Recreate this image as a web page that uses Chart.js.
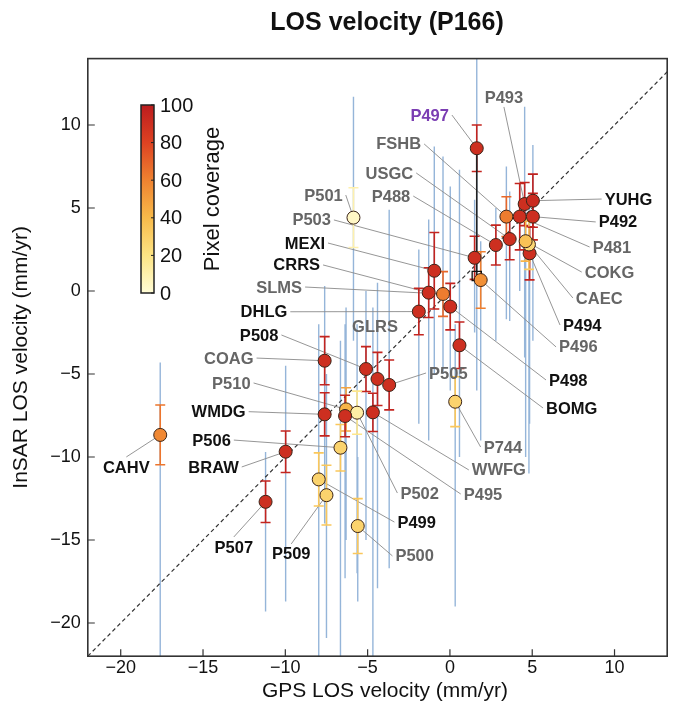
<!DOCTYPE html>
<html>
<head>
<meta charset="utf-8">
<script src="https://cdn.jsdelivr.net/npm/chart.js@4/dist/chart.umd.min.js"></script>
<style>
  html, body { margin: 0; padding: 0; background: #fff; }
  #wrap { width: 675px; height: 716px; }
</style>
</head>
<body>
<div id="wrap"><canvas id="losChart"></canvas></div>
<script>
// station data: GPS LOS (x), InSAR LOS (y), InSAR 1-sigma, pixel coverage (%)
const stations = ["P497","P493","FSHB","USGC","P488","P501","P503","MEXI","CRRS","SLMS","DHLG","GLRS","P508","COAG","P510","WMDG","P506","BRAW","CAHV","P507","P509","P499","P500","P502","P495","WWFG","P744","P505","P498","BOMG","P496","P494","CAEC","COKG","P481","P492","YUHG"];
const gpsVel   = [1.63, 4.54, 3.43, 3.63, 2.79, -5.86, 1.5, -0.95, -1.29, -0.42, -1.89, -4.4, -5.1, -7.61, -6.31, -7.61, -6.65, -9.98, -17.6, -11.2, -7.5, -7.97, -5.6, -5.64, -6.37, -4.68, 0.32, -3.69, 0.02, 0.58, 1.87, 4.84, 4.8, 4.6, 4.24, 5.04, 5.04];
const insarVel = [8.6, 5.24, 4.48, 3.13, 2.77, 4.42, 2.0, 1.22, -0.1, -0.18, -1.24, -5.3, -4.7, -4.2, -7.13, -7.43, -9.44, -9.68, -8.67, -12.7, -12.3, -11.35, -14.16, -7.33, -7.53, -7.31, -6.67, -5.66, -0.94, -3.27, 0.66, 2.27, 2.8, 3.0, 4.48, 4.48, 5.44];
const insarErr = [1.4, 1.3, 1.2, 1.25, 1.2, 1.8, 1.3, 2.3, 1.5, 1.35, 1.4, 1.6, 1.35, 1.45, 1.3, 1.3, 1.4, 1.25, 1.8, 1.25, 1.8, 1.6, 1.65, 1.3, 1.25, 1.15, 1.5, 1.5, 1.4, 1.4, 1.7, 1.6, 1.5, 1.2, 2.0, 1.4, 1.6];
const pixelCov = [90, 90, 62, 90, 90, 4, 90, 90, 90, 62, 90, 90, 90, 90, 42, 90, 28, 90, 58, 90, 28, 28, 28, 12, 90, 90, 28, 90, 90, 90, 55, 90, 26, 36, 90, 90, 92];
// spread of InSAR pixel values around each station (blue lines)
const spanTop    = [14.5, 11.1, 7.5, 6.0, 5.0, 11.7, 5.5, 8.7, 4.3, 8.1, 2.5, 0.5, 0, 0.3, -1, -2, -3, -4.5, -4.3, -9.7, -5, -2, -10, -2, -2, -1, -2, 4.9, 6.3, 7.3, 3, 5, 4.5, 5, 6.5, 7.5, 8.8];
const spanBottom = [-6, -4, -1.7, -1.8, -3, -3, -2.5, -5, -9, -5, -8, -17.9, -15, -12, -15, -14, -22, -18.7, -22, -19.3, -20.9, -22, -18.7, -17, -17.3, -22, -19, -16.7, -6, -10, -9, -8, -11, -10, 0, -3, -2];
// shifted P497 value (open square)
const shiftGps = 1.63;
const shiftInsar = 0.9;

// label anchors (data units), side of the text relative to the point, tone
const labelGps   = [-0.06, 3.28, -1.75, -2.23, -2.41, -6.51, -7.23, -7.59, -7.89, -8.98, -9.88, -4.55, -10.42, -11.93, -12.11, -12.41, -13.31, -12.83, -19.66, -13.13, -9.64, -3.19, -3.31, -3.01, 0.84, 1.33, 2.05, -1.27, 6.02, 5.84, 6.63, 6.87, 7.65, 8.19, 8.67, 9.04, 9.40];
const labelInsar = [10.6, 11.63, 8.86, 7.11, 5.72, 5.78, 4.28, 2.89, 1.57, 0.24, -1.25, -2.11, -2.65, -4.04, -5.54, -7.27, -8.98, -10.6, -10.6, -15.42, -15.84, -13.92, -15.96, -12.17, -12.23, -10.78, -9.4, -4.94, -5.36, -7.05, -3.37, -2.05, -0.42, 1.14, 2.65, 4.16, 5.54];
const labelSide  = ["L","T","L","L","L","L","L","L","L","L","L","N","L","L","L","L","L","L","B","B","B","R","R","R","R","R","R","R","R","R","R","R","R","R","R","R","R"];
const labelTone  = [2,1,1,1,1,1,1,0,0,1,0,1,0,1,1,0,0,0,0,0,0,0,1,1,1,1,1,1,0,0,1,0,1,1,1,0,0];

const xTicks = [-20, -15, -10, -5, 0, 5, 10];
const yTicks = [-20, -15, -10, -5, 0, 5, 10];
const barTicks = [0, 20, 40, 60, 80, 100];

const FONT = "'Liberation Sans', Arial, Helvetica, sans-serif";
const toneColor = ["#111111", "#666666", "#7b3db3"];

const covStops = [0, 20, 40, 60, 80, 100];
const covRgb = [[255,252,214],[253,228,132],[248,186,74],[239,130,48],[222,66,34],[188,28,30]];
function covColor(v) {
  let i = 0;
  while (i < covStops.length - 2 && v > covStops[i + 1]) i++;
  const t = (v - covStops[i]) / (covStops[i + 1] - covStops[i]);
  const a = covRgb[i], b = covRgb[i + 1];
  const c = a.map((ch, k) => Math.round(ch + (b[k] - ch) * t));
  return `rgb(${c[0]},${c[1]},${c[2]})`;
}

const points = gpsVel.map((x, i) => ({ x: x, y: insarVel[i] }));
const spans = [];
gpsVel.forEach((x, i) => {
  spans.push({ x: x, y: spanTop[i] }, { x: x, y: spanBottom[i] }, { x: x, y: null });
});

const minus = (v) => String(v).replace("-", "\u2212");

const overlay = {
  id: "overlay",
  beforeDatasetDraw(chart, args) {
    if (args.index !== 2) return;
    const { ctx, scales: { x, y } } = chart;
    ctx.save();
    // leader lines
    ctx.strokeStyle = "#8a8a8a";
    ctx.lineWidth = 0.9;
    stations.forEach((s, i) => {
      const side = labelSide[i];
      if (side === "N") return;
      let sx = x.getPixelForValue(labelGps[i]);
      let sy = y.getPixelForValue(labelInsar[i]);
      if (side === "L") sx += 3;
      if (side === "R") sx -= 3;
      if (side === "T") sy += 9;
      if (side === "B") sy -= 10;
      ctx.beginPath();
      ctx.moveTo(sx, sy);
      ctx.lineTo(x.getPixelForValue(gpsVel[i]), y.getPixelForValue(insarVel[i]));
      ctx.stroke();
    });
    // error bars
    ctx.lineWidth = 1.6;
    stations.forEach((s, i) => {
      const px = x.getPixelForValue(gpsVel[i]);
      const top = y.getPixelForValue(insarVel[i] + insarErr[i]);
      const bot = y.getPixelForValue(insarVel[i] - insarErr[i]);
      ctx.strokeStyle = covColor(Math.min(100, pixelCov[i] + 6));
      ctx.beginPath();
      ctx.moveTo(px, top); ctx.lineTo(px, bot);
      ctx.moveTo(px - 5, top); ctx.lineTo(px + 5, top);
      ctx.moveTo(px - 5, bot); ctx.lineTo(px + 5, bot);
      ctx.stroke();
    });
    ctx.restore();
  },
  afterDraw(chart) {
    const { ctx, chartArea: a, scales: { x, y } } = chart;
    ctx.save();
    // frame
    ctx.strokeStyle = "#333";
    ctx.lineWidth = 1.6;
    ctx.strokeRect(a.left, a.top, a.right - a.left, a.bottom - a.top);
    // inward ticks
    ctx.lineWidth = 1.2;
    ctx.beginPath();
    xTicks.forEach((v) => {
      const px = x.getPixelForValue(v);
      ctx.moveTo(px, a.bottom); ctx.lineTo(px, a.bottom - 7);
    });
    yTicks.forEach((v) => {
      const py = y.getPixelForValue(v);
      ctx.moveTo(a.left, py); ctx.lineTo(a.left + 7, py);
    });
    ctx.stroke();

    // titles
    ctx.fillStyle = "#111";
    ctx.textAlign = "center";
    ctx.textBaseline = "middle";
    ctx.font = `bold 25px ${FONT}`;
    ctx.fillText("LOS velocity (P166)", 387, 23);
    ctx.font = `21px ${FONT}`;
    ctx.fillText("GPS LOS velocity (mm/yr)", 385, 691);
    ctx.save();
    ctx.translate(21, (a.top + a.bottom) / 2);
    ctx.rotate(-Math.PI / 2);
    ctx.fillText("InSAR LOS velocity (mm/yr)", 0, 0);
    ctx.restore();

    // colorbar
    const cbL = 141, cbR = 154, cbT = 105, cbB = 293;
    const grad = ctx.createLinearGradient(0, cbB, 0, cbT);
    covStops.forEach((s) => grad.addColorStop(s / 100, covColor(s)));
    ctx.fillStyle = grad;
    ctx.fillRect(cbL, cbT, cbR - cbL, cbB - cbT);
    ctx.strokeStyle = "#222";
    ctx.lineWidth = 1.5;
    ctx.strokeRect(cbL, cbT, cbR - cbL, cbB - cbT);
    ctx.lineWidth = 1;
    ctx.fillStyle = "#111";
    ctx.font = `20px ${FONT}`;
    ctx.textAlign = "left";
    barTicks.forEach((v) => {
      const py = cbB - (cbB - cbT) * v / 100;
      ctx.beginPath();
      ctx.moveTo(cbR - 3, py); ctx.lineTo(cbR, py);
      ctx.stroke();
      ctx.fillText(String(v), 160, py + 1);
    });
    ctx.save();
    ctx.translate(213, 199);
    ctx.rotate(-Math.PI / 2);
    ctx.textAlign = "center";
    ctx.font = `22px ${FONT}`;
    ctx.fillText("Pixel coverage", 0, 0);
    ctx.restore();

    // station labels
    ctx.font = `bold 16.5px ${FONT}`;
    ctx.textBaseline = "middle";
    stations.forEach((s, i) => {
      const side = labelSide[i];
      ctx.textAlign = side === "L" ? "right" : side === "R" ? "left" : "center";
      ctx.fillStyle = toneColor[labelTone[i]];
      ctx.fillText(s, x.getPixelForValue(labelGps[i]), y.getPixelForValue(labelInsar[i]) + 1);
    });
    ctx.restore();
  }
};

new Chart(document.getElementById("losChart"), {
  type: "scatter",
  data: {
    datasets: [
      {
        label: "stations",
        data: points,
        order: 0,
        pointRadius: 6.5,
        pointBackgroundColor: pixelCov.map(covColor),
        pointBorderColor: "#3a2418",
        pointBorderWidth: 1,
      },
      {
        label: "P497 shifted",
        data: [{ x: shiftGps, y: shiftInsar }],
        order: 1,
        pointStyle: "rect",
        pointRadius: 6.5,
        pointBackgroundColor: "rgba(0,0,0,0)",
        pointBorderColor: "#111",
        pointBorderWidth: 1.3,
      },
      {
        label: "P497 shift",
        data: [{ x: shiftGps, y: insarVel[0] }, { x: shiftGps, y: shiftInsar }],
        order: 2,
        showLine: true,
        borderColor: "#222",
        borderWidth: 1.6,
        pointRadius: 0,
      },
      {
        label: "1:1",
        data: [{ x: -22, y: -22 }, { x: 14, y: 14 }],
        order: 3,
        showLine: true,
        borderColor: "#333",
        borderWidth: 1.2,
        borderDash: [4, 3],
        pointRadius: 0,
      },
      {
        label: "pixel spread",
        data: spans,
        order: 4,
        showLine: true,
        spanGaps: false,
        borderColor: "rgba(122,162,208,0.8)",
        borderWidth: 1.4,
        pointRadius: 0,
      },
    ],
  },
  options: {
    responsive: true,
    maintainAspectRatio: false,
    animation: false,
    events: [],
    layout: { padding: { top: 58.6, right: 3, left: 0, bottom: 0 } },
    plugins: { legend: { display: false }, tooltip: { enabled: false } },
    scales: {
      x: {
        type: "linear",
        min: -22,
        max: 13.2,
        grid: { display: false, drawTicks: false, tickLength: 0 },
        border: { display: false },
        afterBuildTicks: (s) => { s.ticks = xTicks.map((v) => ({ value: v })); },
        afterFit: (s) => { s.height = 59.8; },
        ticks: { padding: 1, color: "#111", font: { family: FONT, size: 18 }, callback: minus },
      },
      y: {
        type: "linear",
        min: -22,
        max: 14,
        grid: { display: false, drawTicks: false, tickLength: 0 },
        border: { display: false },
        afterBuildTicks: (s) => { s.ticks = yTicks.map((v) => ({ value: v })); },
        afterFit: (s) => { s.width = 87.8; },
        ticks: { padding: 7, color: "#111", font: { family: FONT, size: 18 }, callback: minus },
      },
    },
  },
  plugins: [overlay],
});
</script>
</body>
</html>
